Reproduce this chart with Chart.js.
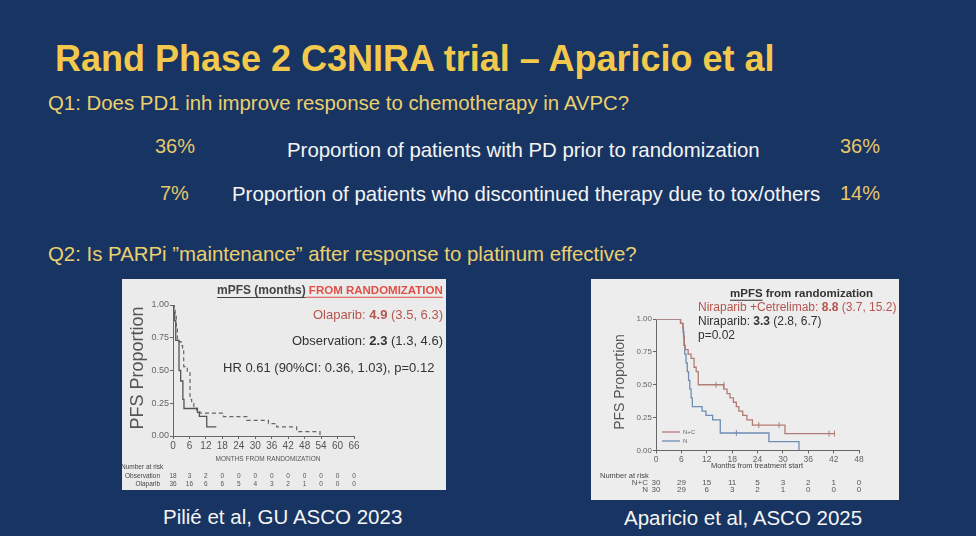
<!DOCTYPE html>
<html>
<head>
<meta charset="utf-8">
<script src="https://cdn.jsdelivr.net/npm/chart.js@4.4.1/dist/chart.umd.min.js"></script>
<style>
body{margin:0;background:#183462;font-family:"Liberation Sans",Arial,sans-serif;}
#slide{position:relative;width:976px;height:536px;overflow:hidden;background:#183462;}
.t{position:absolute;white-space:nowrap;line-height:1;}
.panel{position:absolute;}
</style>
</head>
<body>
<div id="slide">

<div class="t" style="left:55px;top:41px;font-size:36px;font-weight:bold;color:#f2c94c;">Rand Phase 2 C3NIRA trial – Aparicio et al</div>

<div class="t" style="left:48px;top:93px;font-size:20.4px;color:#ead06e;">Q1: Does PD1 inh improve response to chemotherapy in AVPC?</div>

<div class="t" style="left:155px;top:136px;font-size:20px;color:#e6c76a;">36%</div>
<div class="t" style="left:287px;top:140px;font-size:20.4px;color:#f4f4f4;">Proportion of patients with PD prior to randomization</div>
<div class="t" style="left:840px;top:136px;font-size:20px;color:#e6c76a;">36%</div>

<div class="t" style="left:160px;top:183px;font-size:20px;color:#e6c76a;">7%</div>
<div class="t" style="left:232px;top:184px;font-size:20.4px;color:#f4f4f4;">Proportion of patients who discontinued therapy due to tox/others</div>
<div class="t" style="left:840px;top:183px;font-size:20px;color:#e6c76a;">14%</div>

<div class="t" style="left:48px;top:244px;font-size:20.4px;color:#ead06e;">Q2: Is PARPi ”maintenance” after response to platinum effective?</div>

<div class="panel" style="left:122px;top:279px;width:324px;height:211px;background:#ebebeb;">
<canvas id="leftChart" width="324" height="211"></canvas>
</div>

<div class="panel" style="left:591px;top:279px;width:308px;height:221px;background:#ededed;">
<canvas id="rightChart" width="308" height="221"></canvas>
</div>

<div class="t" style="left:163px;top:507px;font-size:20.5px;color:#f4f4f4;">Pilié et al, GU ASCO 2023</div>
<div class="t" style="left:624px;top:508px;font-size:20.5px;color:#f4f4f4;">Aparicio et al, ASCO 2025</div>

</div>

<script>

// left chart: olaparib vs observation (months from randomization)
const leftTicks = [0,6,12,18,24,30,36,42,48,54,60,66];

const obsTimes = [0,0.3,0.6,1.0,2.2,2.8,3.6,4.0,8.9,9.6,12.3,15.8];
const obsSurv = [1,0.94,0.88,0.73,0.50,0.42,0.28,0.21,0.18,0.15,0.07,0.07];

const olaTimes = [0,0.4,0.8,1.2,1.6,2.9,3.5,3.9,5.2,6.2,6.8,7.6,8.6,9.8,18.4,26.9,34.8,37.8,45.1,53.6];
const olaSurv = [1,0.97,0.92,0.83,0.72,0.69,0.67,0.53,0.49,0.28,0.25,0.22,0.20,0.175,0.148,0.12,0.095,0.069,0.033,0];

const obsRisk = [18,3,2,0,0,0,0,0,0,0,0,0];
const olaRisk = [36,16,6,6,5,4,3,2,1,0,0,0];

// right chart: niraparib + cetrelimab vs niraparib (months from treatment start)
const rightTicks = [0,6,12,18,24,30,36,42,48];

const ncTimes = [0,5.8,6.3,6.5,6.7,6.9,7.6,8.3,9.0,9.5,10.0,16.0,16.8,17.5,18.3,19.0,19.6,20.5,21.5,22.8,30.5,42.3];
const ncSurv = [1,0.967,0.933,0.867,0.80,0.767,0.733,0.70,0.633,0.60,0.50,0.467,0.433,0.40,0.367,0.333,0.30,0.267,0.233,0.193,0.129,0.129];
const ncCensorT = [14.2,16.1,24.3,29.1,40.9,42.2];
const ncCensorS = [0.5,0.5,0.193,0.193,0.129,0.129];

const nTimes = [0,5.8,6.4,6.6,6.8,7.1,7.4,7.7,8.0,8.3,8.6,10.9,11.8,13.4,15.2,26.7,33.8];
const nSurv = [1,0.967,0.90,0.80,0.733,0.667,0.60,0.533,0.467,0.40,0.333,0.30,0.267,0.233,0.133,0.067,0];
const nCensorT = [19.0];
const nCensorS = [0.133];

const ncRisk = [30,29,15,11,5,3,2,1,0];
const nRisk = [30,29,6,3,2,1,0,0,0];


const FONT = '"Liberation Sans", Arial, sans-serif';

function toPoints(xs, ys){
return xs.map((x,i)=>({x:x, y:ys[i]}));
}

function txt(ctx, s, x, y, size, color, align, weight){
ctx.font = (weight||'') + ' ' + size + 'px ' + FONT;
ctx.fillStyle = color;
ctx.textAlign = align || 'left';
ctx.textBaseline = 'middle';
ctx.fillText(s, x, y);
}

// draw a row of text pieces [text, size, color, bold, underline]
function runs(ctx, parts, x, y, align){
let total = 0;
parts.forEach(p=>{
ctx.font = (p[3]?'bold ':'') + p[1] + 'px ' + FONT;
total += ctx.measureText(p[0]).width;
});
let cx = align==='right' ? x-total : x;
parts.forEach(p=>{
ctx.font = (p[3]?'bold ':'') + p[1] + 'px ' + FONT;
const w = ctx.measureText(p[0]).width;
ctx.fillStyle = p[2];
ctx.textAlign = 'left';
ctx.textBaseline = 'middle';
ctx.fillText(p[0], cx, y);
if(p[4]){
ctx.strokeStyle = p[2];
ctx.lineWidth = 1;
ctx.beginPath();
ctx.moveTo(cx, y + p[1]*0.5 + 0.5);
ctx.lineTo(cx + w, y + p[1]*0.5 + 0.5);
ctx.stroke();
}
cx += w;
});
}

function vtitle(ctx, s, x, y, size, color){
ctx.save();
ctx.translate(x, y);
ctx.rotate(-Math.PI/2);
txt(ctx, s, 0, 0, size, color, 'center');
ctx.restore();
}


const leftText = {
id:'leftText',
afterDraw(chart){
const ctx = chart.ctx;
const xs = chart.scales.x;
runs(ctx, [['mPFS (months)',12,'#444',true,true],[' FROM RANDOMIZATION',11.5,'#e04f45',true,true]], 95, 12);
runs(ctx, [['Olaparib: ',13,'#b5554e'],['4.9',13,'#b5554e',true],[' (3.5, 6.3)',13,'#b5554e']], 321, 36, 'right');
runs(ctx, [['Observation: ',13,'#333'],['2.3',13,'#333',true],[' (1.3, 4.6)',13,'#333']], 321, 62, 'right');
txt(ctx, 'HR 0.61 (90%CI: 0.36, 1.03), p=0.12', 101, 89, 13, '#333');
vtitle(ctx, 'PFS Proportion', 16, 89, 18, '#555');
txt(ctx, 'MONTHS FROM RANDOMIZATION', 146, 180, 6.5, '#555', 'center');
txt(ctx, 'Number at risk', -1, 188, 6.5, '#444');
txt(ctx, 'Observation', 38, 197, 6.5, '#444', 'right');
txt(ctx, 'Olaparib', 38, 205.5, 6.5, '#444', 'right');
leftTicks.forEach((t,i)=>{
txt(ctx, String(obsRisk[i]), xs.getPixelForValue(t), 197, 6.5, '#555', 'center');
txt(ctx, String(olaRisk[i]), xs.getPixelForValue(t), 205.5, 6.5, '#555', 'center');
});
}
};

const rightText = {
id:'rightText',
afterDraw(chart){
const ctx = chart.ctx;
const xs = chart.scales.x;
runs(ctx, [['mPFS',11.5,'#333',true,true],[' from randomization',11.5,'#333',true]], 139, 15);
runs(ctx, [['Niraparib +Cetrelimab: ',12,'#b5554e'],['8.8',12,'#b5554e',true],[' (3.7, 15.2)',12,'#b5554e']], 107, 29);
runs(ctx, [['Niraparib: ',12,'#333'],['3.3',12,'#333',true],[' (2.8, 6.7)',12,'#333']], 107, 43);
txt(ctx, 'p=0.02', 107, 57, 12, '#333');
vtitle(ctx, 'PFS Proportion', 29, 103, 14, '#555');
txt(ctx, 'Months from treatment start', 166, 187, 7.5, '#444', 'center');

// legend
ctx.lineWidth = 1.3;
ctx.strokeStyle = '#b27c76';
ctx.beginPath(); ctx.moveTo(71, 153); ctx.lineTo(89, 153); ctx.stroke();
ctx.strokeStyle = '#6f8db3';
ctx.beginPath(); ctx.moveTo(71, 162); ctx.lineTo(89, 162); ctx.stroke();
txt(ctx, 'N+C', 92, 153, 6, '#666');
txt(ctx, 'N', 92, 162, 6, '#666');

txt(ctx, 'Number at risk', 9, 197, 7.5, '#444');
txt(ctx, 'N+C', 57, 204, 8, '#555', 'right');
txt(ctx, 'N', 57, 211, 8, '#555', 'right');
rightTicks.forEach((t,i)=>{
txt(ctx, String(ncRisk[i]), xs.getPixelForValue(t), 204, 8, '#555', 'center');
txt(ctx, String(nRisk[i]), xs.getPixelForValue(t), 211, 8, '#555', 'center');
});
}
};


function axis(min, max, step, size, color, fit, fmt){
return {
type:'linear',
min:min,
max:max,
ticks:{stepSize:step, color:color, font:{size:size, family:FONT}, padding:1, callback:fmt, autoSkip:false, maxRotation:0, minRotation:0},
grid:{drawOnChartArea:false, tickLength:3, color:'#666'},
border:{color:'#666'},
afterFit:fit
};
}


new Chart(document.getElementById('leftChart'),{
type:'line',
data:{
datasets:[
{label:'Observation', data:toPoints(obsTimes,obsSurv), stepped:true, borderColor:'#555', borderWidth:1.3, pointRadius:0, fill:false},
{label:'Olaparib', data:toPoints(olaTimes,olaSurv), stepped:true, borderColor:'#666', borderDash:[4,3], borderWidth:1.2, pointRadius:0, fill:false}
]
},
options:{
responsive:false,
animation:false,
layout:{padding:{left:23,top:26,right:92,bottom:34}},
plugins:{legend:{display:false}, tooltip:{enabled:false}},
scales:{
x:axis(0,66,6,10,'#555',s=>{s.height=20;}),
y:axis(0,1,0.25,9,'#666',s=>{s.width=28;},v=>v.toFixed(2))
}
},
plugins:[leftText]
});


new Chart(document.getElementById('rightChart'),{
type:'line',
data:{
datasets:[
{label:'N+C', data:toPoints(ncTimes,ncSurv), stepped:true, borderColor:'#b27c76', borderWidth:1.3, pointRadius:0, fill:false},
{label:'N', data:toPoints(nTimes,nSurv), stepped:true, borderColor:'#6f8db3', borderWidth:1.3, pointRadius:0, fill:false},
{label:'N+C censored', data:toPoints(ncCensorT,ncCensorS), showLine:false, pointStyle:'line', rotation:90, pointRadius:3, borderColor:'#b27c76', borderWidth:1},
{label:'N censored', data:toPoints(nCensorT,nCensorS), showLine:false, pointStyle:'line', rotation:90, pointRadius:3, borderColor:'#6f8db3', borderWidth:1}
]
},
options:{
responsive:false,
animation:false,
layout:{padding:{left:39,top:40,right:40,bottom:35.5}},
plugins:{legend:{display:false}, tooltip:{enabled:false}},
scales:{
x:axis(0,48,6,8.5,'#666',s=>{s.height=14;}),
y:axis(0,1,0.25,8,'#666',s=>{s.width=26;},v=>v.toFixed(2))
}
},
plugins:[rightText]
});

</script>
</body>
</html>
